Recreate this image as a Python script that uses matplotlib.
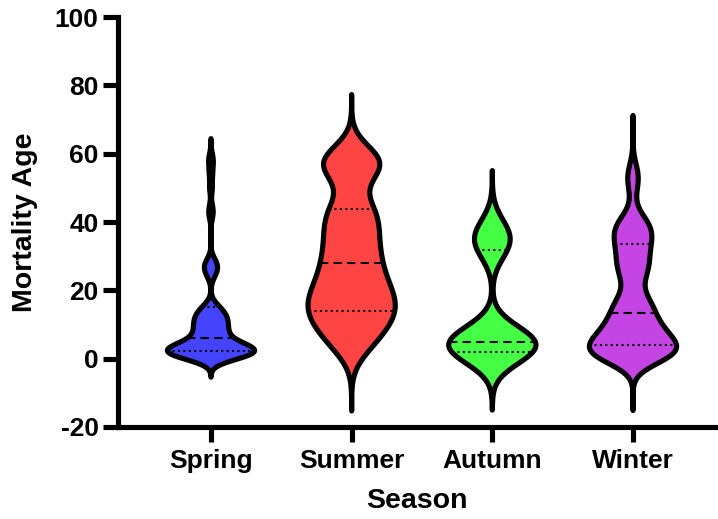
import numpy as np
import matplotlib
matplotlib.use("Agg")
import matplotlib.pyplot as plt
from matplotlib.patches import Polygon

plt.rcParams['font.family'] = ['Liberation Sans', 'DejaVu Sans']
plt.rcParams['font.weight'] = 'bold'
plt.rcParams['axes.unicode_minus'] = False

seasons = ['Spring', 'Summer', 'Autumn', 'Winter']
colors = ['#4444ff', '#ff4444', '#44ff44', '#c444e4']

# mortality ages (value, how many deaths at that age)
spring_age = [0, 1, 2, 3, 4, 5, 6, 7, 8, 9, 10, 11, 12, 13, 14, 15, 16,
              24, 25, 26, 27, 28, 29, 42, 44, 50, 54, 57, 59]
spring_n = [6, 8, 10, 10, 6, 4, 3, 3, 3, 3, 3, 3, 3, 3, 2, 2, 1,
            1, 1, 1, 2, 1, 1, 1, 1, 1, 1, 1, 1]

summer_age = [0, 2, 4, 6, 8, 10, 12, 14, 16, 18, 20, 22, 24, 26, 28, 30,
              32, 34, 36, 38, 40, 42, 44, 46, 48, 50, 52, 54, 56, 58, 60, 62]
summer_n = [1, 2, 3, 4, 4, 5, 6, 6, 6, 6, 5, 5, 4, 4, 4, 4,
            3, 4, 3, 4, 3, 4, 4, 2, 1, 1, 1, 3, 6, 7, 4, 1]

autumn_age = [0, 1, 2, 3, 4, 5, 6, 7, 8, 9,
              30, 31, 32, 33, 34, 35, 36, 37, 38, 39, 40]
autumn_n = [3, 3, 4, 4, 5, 4, 4, 3, 2, 1,
            1, 1, 1, 1, 2, 2, 2, 1, 1, 1, 1]

winter_age = [0, 2, 4, 6, 8, 10, 12, 14, 16, 18, 20, 22, 24, 26, 28, 30,
              32, 34, 36, 38, 40, 42, 48, 52, 54, 56]
winter_n = [10, 10, 9, 7, 6, 5, 4, 4, 4, 3, 1, 1, 3, 3, 3, 3,
            3, 3, 4, 4, 3, 2, 1, 2, 1, 1]

# quartiles (25th, median, 75th) as shown on the chart
quartiles = [[2.2, 6.0, 15.0],
             [14.0, 27.9, 43.8],
             [1.85, 4.8, 31.8],
             [3.9, 13.5, 33.6]]

# kde bandwidth and tail length (in bandwidths) for each season
bw = [1.8, 4.5, 4.7, 3.3]
cut = [3.0, 3.4, 3.2, 4.6]

groups = [np.repeat(spring_age, spring_n), np.repeat(summer_age, summer_n),
          np.repeat(autumn_age, autumn_n), np.repeat(winter_age, winter_n)]

fig = plt.figure(figsize=(7.18, 5.19), dpi=100)
ax = fig.add_axes([118/718, 92/519, 598/718, 410/519])

half = 0.31
lw = 3.7
for i, vals in enumerate(groups):
    pos = i + 1
    h = bw[i]
    y = np.linspace(vals.min() - cut[i]*h, vals.max() + cut[i]*h, 600)
    dens = np.exp(-0.5*((y[:, None] - vals[None, :])/h)**2).sum(axis=1)
    w = dens/dens.max()*half
    xs = np.concatenate([pos + w, (pos - w)[::-1]])
    ys = np.concatenate([y, y[::-1]])
    ax.add_patch(Polygon(np.column_stack([xs, ys]), closed=True,
                         facecolor=colors[i], edgecolor='none', zorder=2))
    for j, q in enumerate(quartiles[i]):
        wq = np.interp(q, y, w)
        if j == 1:
            ax.plot([pos - wq, pos + wq], [q, q], color='black', lw=1.5,
                    dashes=(4, 2.5), zorder=3)
        else:
            ax.plot([pos - wq, pos + wq], [q, q], color='black', lw=1.5,
                    dashes=(1, 1.6), zorder=3)
    ax.add_patch(Polygon(np.column_stack([xs, ys]), closed=True,
                         facecolor='none', edgecolor='black', lw=lw,
                         joinstyle='round', capstyle='round', zorder=4))

ax.set_xlim(0.339, 4.59)
ax.set_ylim(-20, 100)
ax.set_yticks([-20, 0, 20, 40, 60, 80, 100])
ax.set_xticks([1, 2, 3, 4])
ax.set_xticklabels(seasons)
for s in ['top', 'right']:
    ax.spines[s].set_visible(False)
for s in ['left', 'bottom']:
    ax.spines[s].set_linewidth(lw)
ax.tick_params(axis='both', direction='out', length=11, width=lw,
               labelsize=19)
ax.tick_params(axis='y', pad=3)
ax.tick_params(axis='x', pad=5)
for t in ax.get_xticklabels() + ax.get_yticklabels():
    t.set_fontweight('bold')

fig.text(25/718, 1 - 222/519, 'Mortality Age', rotation=90, ha='center',
         va='center', fontsize=20.5, fontweight='bold')
fig.text((118 + 716)/2/718, 1 - 501/519, 'Season', ha='center', va='center',
         fontsize=20.5, fontweight='bold')

fig.savefig('out.png', dpi=100)
